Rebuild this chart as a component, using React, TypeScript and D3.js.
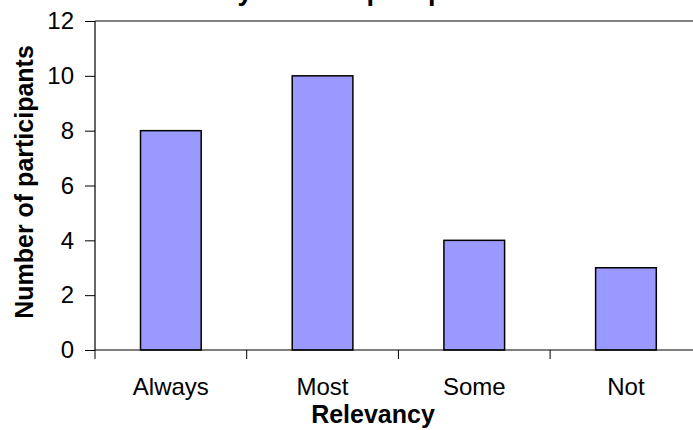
import { useEffect, useRef } from 'react'
import * as d3 from 'd3'

const categories = ['Always', 'Most', 'Some', 'Not']
const participants = [8, 10, 4, 3]
const yTicks = [0, 2, 4, 6, 8, 10, 12]
const title = 'Relevancy of the topics presented'
const xTitle = 'Relevancy'
const yTitle = 'Number of participants'

export default function App() {
  const ref = useRef<SVGSVGElement | null>(null)

  useEffect(() => {
    const el = ref.current
    if (!el) return
    const svg = d3.select(el)
    svg.selectAll('*').remove()

    const font = 'Liberation Sans, Arial, sans-serif'
    const left = 95
    const top = 21
    const bottom = 350
    const band = 151.7
    const right = left + band * categories.length

    const x = d3.scaleBand<string>().domain(categories).range([left, right]).paddingInner(0.6).paddingOuter(0.3)
    const xTick = d3.scaleBand<string>().domain(categories).range([left, right])
    const y = d3.scaleLinear().domain([0, 12]).range([bottom, top])

    svg.append('rect').attr('width', 693).attr('height', 430).attr('fill', '#fff')

    // top border of plot area
    svg.append('line')
      .attr('x1', left).attr('x2', 693)
      .attr('y1', y(12)).attr('y2', y(12))
      .attr('stroke', '#808080').attr('stroke-width', 2)

    svg.selectAll('rect.bar').data(participants).join('rect')
      .attr('class', 'bar')
      .attr('x', (_, i) => x(categories[i]) ?? 0)
      .attr('y', d => y(d))
      .attr('width', x.bandwidth())
      .attr('height', d => bottom - y(d))
      .attr('fill', '#9999ff')
      .attr('stroke', '#000')
      .attr('stroke-width', 1.5)

    // y axis
    const ya = svg.append('g').attr('transform', `translate(${left},0)`)
      .call(d3.axisLeft(y).tickValues(yTicks).tickSize(10).tickPadding(11).tickFormat(d3.format('d')))
    ya.select('.domain').attr('stroke', '#000').attr('stroke-width', 1.2).attr('d', `M0,${top}V${bottom}`)
    ya.selectAll('.tick line').attr('stroke', '#000')
    ya.selectAll('text').attr('font-family', font).attr('font-size', 24).attr('fill', '#000')

    // x axis
    const xa = svg.append('g').attr('transform', `translate(0,${bottom})`)
    xa.append('line').attr('x1', left).attr('x2', 693).attr('y1', 0).attr('y2', 0)
      .attr('stroke', '#000').attr('stroke-width', 1.2)
    const edges = categories.map(c => xTick(c) ?? 0)
    xa.selectAll('line.tk').data(edges).join('line')
      .attr('class', 'tk')
      .attr('x1', d => d).attr('x2', d => d)
      .attr('y1', 0).attr('y2', 9)
      .attr('stroke', '#000')
    xa.selectAll('text').data(categories).join('text')
      .attr('x', d => (xTick(d) ?? 0) + xTick.bandwidth() / 2)
      .attr('y', 45)
      .attr('text-anchor', 'middle')
      .attr('font-family', font).attr('font-size', 24)
      .text(d => d)

    svg.append('text')
      .attr('x', 373).attr('y', 423)
      .attr('text-anchor', 'middle')
      .attr('font-family', font).attr('font-size', 25).attr('font-weight', 'bold')
      .text(xTitle)

    svg.append('text')
      .attr('transform', `translate(33,182) rotate(-90)`)
      .attr('text-anchor', 'middle')
      .attr('font-family', font).attr('font-size', 25).attr('font-weight', 'bold')
      .text(yTitle)

    // title sits mostly above the visible area, as in the source picture
    svg.append('text')
      .attr('x', 338).attr('y', -0.5)
      .attr('text-anchor', 'middle')
      .attr('font-family', font).attr('font-size', 27).attr('font-weight', 'bold')
      .text(title)
  }, [])

  return <svg ref={ref} width={693} height={430} style={{ position: 'absolute', left: 0, top: 0, display: 'block' }} />
}
